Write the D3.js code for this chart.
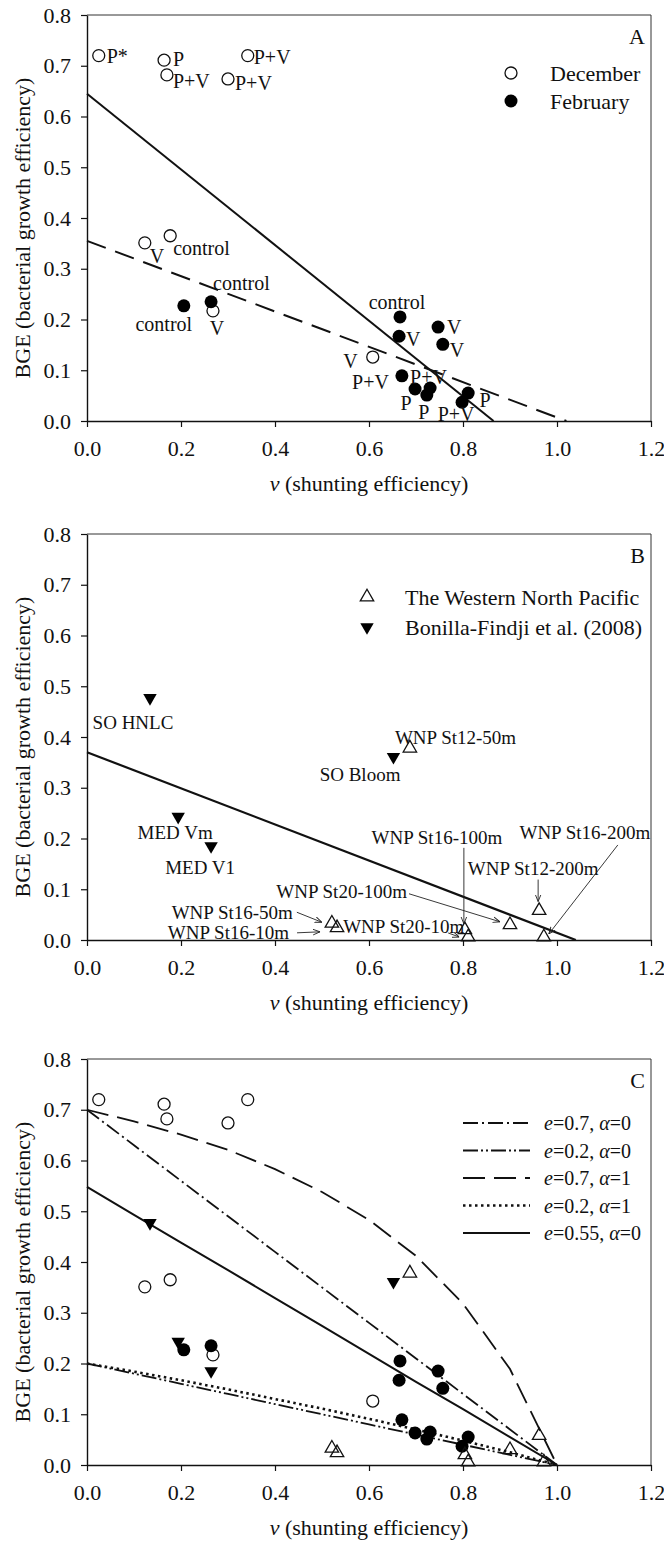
<!DOCTYPE html>
<html>
<head>
<meta charset="utf-8">
<script src="https://cdn.jsdelivr.net/npm/d3@7"></script>
<style>
  body { margin: 0; background: #fff; }
  svg { display: block; }
</style>
</head>
<body>
<svg id="chart" width="664" height="1545"></svg>
<script>
// ---- data ----
var xTicks = [0, 0.2, 0.4, 0.6, 0.8, 1.0, 1.2];
var yTicks = [0, 0.1, 0.2, 0.3, 0.4, 0.5, 0.6, 0.7, 0.8];

// panel A, December (open circles)
var decV     = [0.025, 0.164, 0.170, 0.300, 0.342, 0.123, 0.177, 0.268, 0.608];
var decBGE   = [0.720, 0.711, 0.682, 0.674, 0.720, 0.351, 0.365, 0.217, 0.126];
var decLabel = ["P*", "P", "P+V", "P+V", "P+V", "V", "control", "V", "V"];

// panel A, February (filled circles)
var febV     = [0.206, 0.264, 0.666, 0.664, 0.747, 0.757, 0.670, 0.730, 0.698, 0.723, 0.811, 0.798];
var febBGE   = [0.227, 0.235, 0.205, 0.167, 0.185, 0.151, 0.089, 0.065, 0.063, 0.051, 0.055, 0.037];
var febLabel = ["control", "control", "control", "V", "V", "V", "P+V", "P+V", "P", "P", "P", "P+V"];

// panel B, Western North Pacific (open triangles)
var wnpV     = [0.687, 0.521, 0.532, 0.811, 0.804, 0.900, 0.962, 0.972];
var wnpBGE   = [0.378, 0.033, 0.024, 0.006, 0.020, 0.030, 0.058, 0.006];
var wnpLabel = ["WNP St12-50m", "WNP St16-50m", "WNP St16-10m", "WNP St20-10m",
                "WNP St16-100m", "WNP St20-100m", "WNP St12-200m", "WNP St16-200m"];

// panel B, Bonilla-Findji et al. (2008) (filled down triangles)
var bonV     = [0.134, 0.194, 0.264, 0.652];
var bonBGE   = [0.477, 0.243, 0.185, 0.361];
var bonLabel = ["SO HNLC", "MED Vm", "MED V1", "SO Bloom"];

// regression lines (end points)
var fitA_solid  = [[0, 0.645], [0.865, 0]];
var fitA_dashed = [[0, 0.355], [1.02, 0]];
var fitB        = [[0, 0.370], [1.04, 0]];

// panel C model curves, read at v = 0, 0.1 ... 1.0
var curveV   = [0, 0.1, 0.2, 0.3, 0.4, 0.5, 0.6, 0.7, 0.8, 0.9, 1.0];
var e07a0    = [0.700, 0.630, 0.560, 0.490, 0.420, 0.350, 0.280, 0.210, 0.140, 0.070, 0];
var e02a0    = [0.200, 0.180, 0.160, 0.140, 0.120, 0.100, 0.080, 0.060, 0.040, 0.020, 0];
var e07a1    = [0.700, 0.677, 0.651, 0.621, 0.583, 0.538, 0.483, 0.412, 0.318, 0.189, 0];
var e02a1    = [0.200, 0.184, 0.167, 0.149, 0.130, 0.111, 0.091, 0.070, 0.048, 0.025, 0];
var e055a0   = [0.548, 0.493, 0.438, 0.384, 0.329, 0.274, 0.219, 0.164, 0.110, 0.055, 0];

// ---- layout ----
var FONT = '"Liberation Serif", "Times New Roman", Times, serif';
var svg = d3.select("#chart");
var left = 87, right = 651, plotH = 406;
var panelTops = [15, 534, 1059];

// label offsets (px from the marker): [anchor, dx, dy]
var decPos = [["start",8,0],["start",9,-1],["start",6,6],["start",7,4],["start",6,1],
              ["start",5,13],["start",3,12],["middle",4,17],["end",-15,4]];
var febPos = [["middle",-20,18],["start",2,-19],["middle",-3,-15],["start",7,3],["start",9,0],
              ["start",7,6],["end",-13,6],["start",-20,-11],["middle",-9,14],["middle",-3,17],
              ["middle",17,7],["middle",-6,12]];
var bonPos = [["middle",-17,24],["middle",-3,16],["middle",-11,21],["end",7,18]];
// [anchor, dx, dy, arrow [sx, sy, ex, ey]] (null = no arrow)
var wnpPos = [["start",-15,-11,null],
              ["end",-39,-11,[-35,-11,-10,-1]],
              ["end",-48,5,[-40,5,-17,4]],
              ["start",-125,-11,[-20,-4,-9,0]],
              ["middle",-28,-93,[-1,-82,-1,-6]],
              ["end",-103,-33,[-101,-31,-10,-3]],
              ["middle",-6,-42,[-1,-31,-1,-9]],
              ["middle",41,-105,[74,-92,5,-3]]];

var defs = svg.append("defs");
defs.append("marker").attr("id", "arrow")
  .attr("viewBox", "0 0 10 10").attr("refX", 10).attr("refY", 5)
  .attr("markerWidth", 7).attr("markerHeight", 7).attr("orient", "auto-start-reverse")
  .attr("markerUnits", "userSpaceOnUse")
  .append("path").attr("d", "M0,1 L10,5 L0,9").attr("fill", "none")
  .attr("stroke", "#222").attr("stroke-width", 1.3);

var x = d3.scaleLinear().domain([0, 1.2]).range([left, right]);

function makePanel(top, letter) {
  var y = d3.scaleLinear().domain([0, 0.8]).range([top + plotH, top]);
  var g = svg.append("g");

  // frame top and right
  g.append("line").attr("x1", left).attr("x2", right).attr("y1", top).attr("y2", top)
    .attr("stroke", "#333").attr("stroke-width", 1);
  g.append("line").attr("x1", right).attr("x2", right).attr("y1", top).attr("y2", top + plotH)
    .attr("stroke", "#333").attr("stroke-width", 1);

  var ax = g.append("g").attr("transform", "translate(0," + (top + plotH) + ")")
    .call(d3.axisBottom(x).tickValues(xTicks).tickFormat(d3.format(".1f"))
      .tickSize(6).tickPadding(13).tickSizeOuter(0));
  var ay = g.append("g").attr("transform", "translate(" + left + ",0)")
    .call(d3.axisLeft(y).tickValues(yTicks).tickFormat(d3.format(".1f"))
      .tickSize(6).tickPadding(10).tickSizeOuter(0));
  [ax, ay].forEach(function(a) {
    a.attr("font-family", FONT).attr("font-size", 22);
    a.selectAll("text").attr("fill", "#111");
    a.selectAll("line").attr("stroke", "#111").attr("stroke-width", 1.2);
    a.select(".domain").attr("stroke", "#111").attr("stroke-width", 1.4);
  });

  var xt = g.append("text").attr("x", (left + right) / 2).attr("y", top + plotH + 62)
    .attr("dy", "0.35em").attr("text-anchor", "middle").attr("font-size", 22);
  xt.append("tspan").attr("font-style", "italic").text("v");
  xt.append("tspan").text(" (shunting efficiency)");

  g.append("text").attr("transform", "translate(22," + (top + plotH / 2 + 10) + ") rotate(-90)")
    .attr("dy", "0.35em").attr("text-anchor", "middle").attr("font-size", 22)
    .text("BGE (bacterial growth efficiency)");

  g.append("text").attr("x", 645).attr("y", top + 21).attr("dy", "0.35em")
    .attr("text-anchor", "end").attr("font-size", 22).text(letter);
  return { g: g, y: y, top: top };
}

function zip(vs, bs) { return vs.map(function(v, i) { return [v, bs[i]]; }); }

var tri = d3.symbol().type(d3.symbolTriangle).size(78);

function drawOpenCircles(p, pts) {
  p.g.append("g").selectAll("circle").data(pts).join("circle")
    .attr("cx", function(d) { return x(d[0]); }).attr("cy", function(d) { return p.y(d[1]); })
    .attr("r", 6).attr("fill", "none").attr("stroke", "#111").attr("stroke-width", 1.3);
}
function drawFilledCircles(p, pts) {
  p.g.append("g").selectAll("circle").data(pts).join("circle")
    .attr("cx", function(d) { return x(d[0]); }).attr("cy", function(d) { return p.y(d[1]); })
    .attr("r", 6.5).attr("fill", "#000");
}
function drawUpTriangles(p, pts) {
  p.g.append("g").selectAll("path").data(pts).join("path").attr("d", tri)
    .attr("transform", function(d) { return "translate(" + x(d[0]) + "," + p.y(d[1]) + ")"; })
    .attr("fill", "none").attr("stroke", "#111").attr("stroke-width", 1.3);
}
function drawDownTriangles(p, pts) {
  p.g.append("g").selectAll("path").data(pts).join("path").attr("d", tri)
    .attr("transform", function(d) { return "translate(" + x(d[0]) + "," + p.y(d[1]) + ") rotate(180)"; })
    .attr("fill", "#000");
}
function drawLabels(p, pts, labels, pos, size) {
  p.g.append("g").selectAll("text").data(pts).join("text")
    .attr("x", function(d, i) { return x(d[0]) + pos[i][1]; })
    .attr("y", function(d, i) { return p.y(d[1]) + pos[i][2]; })
    .attr("dy", "0.35em").attr("text-anchor", function(d, i) { return pos[i][0]; })
    .attr("font-size", size)
    .text(function(d, i) { return labels[i]; });
}
function drawLine(p, pts, dash, w) {
  p.g.append("path").datum(pts)
    .attr("d", d3.line().x(function(d) { return x(d[0]); }).y(function(d) { return p.y(d[1]); }))
    .attr("fill", "none").attr("stroke", "#111").attr("stroke-width", w || 2)
    .attr("stroke-dasharray", dash || null);
}

var decPts = zip(decV, decBGE), febPts = zip(febV, febBGE);
var wnpPts = zip(wnpV, wnpBGE), bonPts = zip(bonV, bonBGE);

// ---- panel A ----
var pA = makePanel(panelTops[0], "A");
drawLine(pA, fitA_solid, null, 2);
drawLine(pA, fitA_dashed, "20,10", 2);
drawOpenCircles(pA, decPts);
drawFilledCircles(pA, febPts);
drawLabels(pA, decPts, decLabel, decPos, 20);
drawLabels(pA, febPts, febLabel, febPos, 20);

var legA = pA.g.append("g");
legA.append("circle").attr("cx", 511).attr("cy", pA.top + 58).attr("r", 6)
  .attr("fill", "none").attr("stroke", "#111").attr("stroke-width", 1.3);
legA.append("circle").attr("cx", 511).attr("cy", pA.top + 86).attr("r", 6.5).attr("fill", "#000");
legA.append("text").attr("x", 550).attr("y", pA.top + 58).attr("dy", "0.35em").attr("font-size", 22).text("December");
legA.append("text").attr("x", 550).attr("y", pA.top + 86).attr("dy", "0.35em").attr("font-size", 22).text("February");

// ---- panel B ----
var pB = makePanel(panelTops[1], "B");
drawLine(pB, fitB, null, 2.2);
drawUpTriangles(pB, wnpPts);
drawDownTriangles(pB, bonPts);
drawLabels(pB, bonPts, bonLabel, bonPos, 19);
drawLabels(pB, wnpPts, wnpLabel, wnpPos, 19);
pB.g.append("g").selectAll("line").data(wnpPts.filter(function(d, i) { return wnpPos[i][3]; }))
  .join("line")
  .each(function(d) {
    var a = wnpPos[wnpPts.indexOf(d)][3];
    d3.select(this)
      .attr("x1", x(d[0]) + a[0]).attr("y1", pB.y(d[1]) + a[1])
      .attr("x2", x(d[0]) + a[2]).attr("y2", pB.y(d[1]) + a[3]);
  })
  .attr("stroke", "#222").attr("stroke-width", 0.9).attr("marker-end", "url(#arrow)");

var legB = pB.g.append("g");
legB.append("path").attr("d", tri).attr("transform", "translate(367," + (pB.top + 63) + ")")
  .attr("fill", "none").attr("stroke", "#111").attr("stroke-width", 1.3);
legB.append("path").attr("d", tri).attr("transform", "translate(367," + (pB.top + 93) + ") rotate(180)")
  .attr("fill", "#000");
legB.append("text").attr("x", 405).attr("y", pB.top + 63).attr("dy", "0.35em").attr("font-size", 22).text("The Western North Pacific");
legB.append("text").attr("x", 405).attr("y", pB.top + 93).attr("dy", "0.35em").attr("font-size", 22).text("Bonilla-Findji et al. (2008)");

// ---- panel C ----
var pC = makePanel(panelTops[2], "C");
var models = [
  { vals: e07a0,  e: "0.7",  a: "0", dash: "15,4,2,4",       w: 1.8 },
  { vals: e02a0,  e: "0.2",  a: "0", dash: "15,3,2,3,2,3",   w: 1.8 },
  { vals: e07a1,  e: "0.7",  a: "1", dash: "22,9",           w: 1.8 },
  { vals: e02a1,  e: "0.2",  a: "1", dash: "2.5,3.5",        w: 2.6 },
  { vals: e055a0, e: "0.55", a: "0", dash: null,             w: 2 }
];
models.forEach(function(m) { drawLine(pC, zip(curveV, m.vals), m.dash, m.w); });
drawOpenCircles(pC, decPts);
drawFilledCircles(pC, febPts);
drawUpTriangles(pC, wnpPts);
drawDownTriangles(pC, bonPts);

var legC = pC.g.append("g");
models.forEach(function(m, i) {
  var ly = pC.top + 64 + i * 27.5;
  legC.append("line").attr("x1", 463).attr("x2", 530).attr("y1", ly).attr("y2", ly)
    .attr("stroke", "#111").attr("stroke-width", m.w).attr("stroke-dasharray", m.dash);
  var t = legC.append("text").attr("x", 544).attr("y", ly).attr("dy", "0.35em").attr("font-size", 20);
  t.append("tspan").attr("font-style", "italic").text("e");
  t.append("tspan").text("=" + m.e + ", ");
  t.append("tspan").attr("font-style", "italic").text("α");
  t.append("tspan").text("=" + m.a);
});

// one serif face for every text
svg.selectAll("text").attr("font-family", FONT).attr("fill", "#111");
</script>
</body>
</html>
